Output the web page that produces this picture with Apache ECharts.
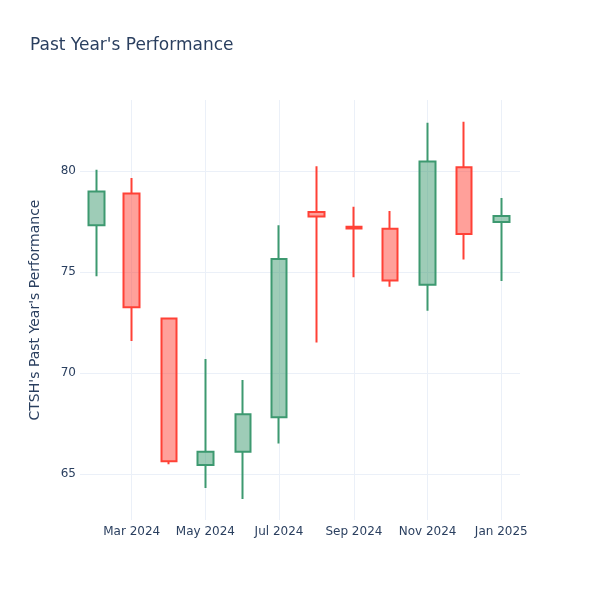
<!DOCTYPE html>
<html>
<head>
<meta charset="utf-8">
<script src="https://cdn.jsdelivr.net/npm/echarts@6/dist/echarts.min.js"></script>
<style>html,body{margin:0;padding:0;background:#fff}#c{width:600px;height:600px}</style>
</head>
<body>
<div id="c"></div>
<script>
const dates = ['2024-02-01','2024-03-01','2024-04-01','2024-05-01','2024-06-01','2024-07-01','2024-08-01','2024-09-01','2024-10-01','2024-11-01','2024-12-01','2025-01-01'];
const openV  = [77.33, 78.90, 72.72, 65.46, 66.12, 67.82, 77.98, 77.25, 77.16, 74.38, 80.20, 77.49];
const closeV = [79.00, 73.27, 65.65, 66.12, 67.97, 75.66, 77.76, 77.17, 74.60, 80.48, 76.90, 77.79];
const lowV   = [74.80, 71.60, 65.50, 64.33, 63.78, 66.53, 71.53, 74.75, 74.28, 73.10, 75.63, 74.57];
const highV  = [80.08, 79.67, 72.76, 70.71, 69.67, 77.33, 80.25, 78.25, 78.04, 82.40, 82.45, 78.68];
const tickDates  = ['2024-03-01','2024-05-01','2024-07-01','2024-09-01','2024-11-01','2025-01-01'];
const tickLabels = ['Mar 2024','May 2024','Jul 2024','Sep 2024','Nov 2024','Jan 2025'];

function ts(s){ const p = s.split('T')[0].split('-').map(Number); let t = Date.UTC(p[0], p[1]-1, p[2]); if (s.indexOf('T')>=0){ const h = s.split('T')[1].split(':').map(Number); t += (h[0]*3600 + (h[1]||0)*60)*1000; } return t; }
const tickTs = tickDates.map(ts);
const data = dates.map((d,i)=>[ts(d), openV[i], closeV[i], lowV[i], highV[i]]);

const font = 'DejaVu Sans';
const txt = '#2a3f5f';
const grid = '#ebf0f8';
const chart = echarts.init(document.getElementById('c'), null, {renderer:'canvas'});
chart.setOption({
  animation: false,
  backgroundColor: '#fff',
  title: {
    text: "Past Year's Performance",
    left: 30, top: 37, padding: 0,
    textStyle: {fontFamily: font, fontSize: 17, fontWeight: 'normal', color: txt}
  },
  grid: {left: 80, right: 80, top: 100, bottom: 80, containLabel: false},
  xAxis: {
    type: 'value',
    min: ts('2024-01-18T05:00'),
    max: ts('2025-01-16T12:00'),
    axisLine: {show: false},
    axisTick: {show: false, customValues: tickTs},
    axisLabel: {
      customValues: tickTs,
      margin: 6,
      fontFamily: font, fontSize: 12, color: txt,
      formatter: function(v){ const i = tickTs.indexOf(v); return i>=0 ? tickLabels[i] : ''; }
    },
    splitLine: {show: true, lineStyle: {color: grid, width: 1}}
  },
  yAxis: {
    type: 'value',
    min: 62.74, max: 83.53,
    splitNumber: 4,
    name: "CTSH's Past Year's Performance",
    nameLocation: 'middle',
    nameGap: 38,
    nameTextStyle: {fontFamily: font, fontSize: 14, color: txt},
    axisLine: {show: false},
    axisTick: {show: false},
    axisLabel: {
      margin: 4, fontFamily: font, fontSize: 12, color: txt,
      showMinLabel: false, showMaxLabel: false,
      formatter: function(v){ return (Math.abs(v/5 - Math.round(v/5)) < 1e-6) ? String(v) : ''; }
    },
    splitLine: {show: true, showMinLine: false, showMaxLine: false, lineStyle: {color: grid, width: 1}}
  },
  series: [{
    type: 'candlestick',
    data: data,
    barWidth: 16,
    itemStyle: {
      color: 'rgba(61,153,112,0.5)',
      color0: 'rgba(255,65,54,0.5)',
      borderColor: '#3D9970',
      borderColor0: '#FF4136',
      borderWidth: 2
    }
  }]
});
</script>
</body>
</html>
